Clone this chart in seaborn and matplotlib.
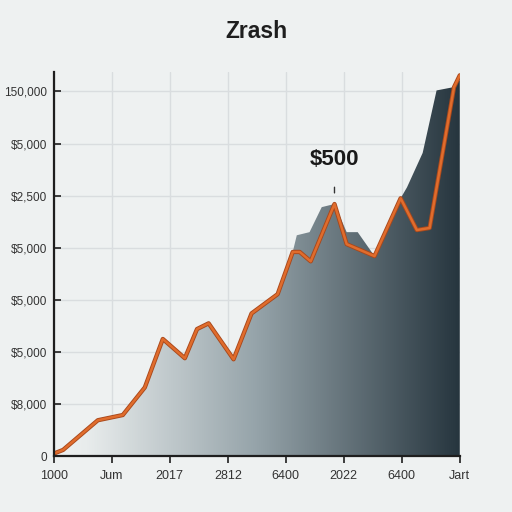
import numpy as np
import pandas as pd
import matplotlib
matplotlib.use('Agg')
import matplotlib.pyplot as plt
import matplotlib.patheffects as pe
from matplotlib.colors import LinearSegmentedColormap
import seaborn as sns

# ── Data (tick positions are category slots 0..7) ─────────────────
x_labels = ['1000', 'Jum', '2017', '2812', '6400', '2022', '6400', 'Jart']
y_labels = ['0', '$8,000', '$5,000', '$5,000', '$5,000', '$2,500', '$5,000', '150,000']

line_x = [0.00, 0.16, 0.76, 1.19, 1.57, 1.88, 2.26, 2.47, 2.67, 3.10, 3.41, 3.86,
          4.12, 4.24, 4.43, 4.84, 5.05, 5.53, 5.98, 6.26, 6.48, 6.90, 7.00]
line_y = [0.05, 0.12, 0.69, 0.79, 1.32, 2.25, 1.88, 2.44, 2.55, 1.86, 2.74, 3.11,
          3.92, 3.92, 3.74, 4.84, 4.07, 3.84, 4.95, 4.34, 4.38, 7.08, 7.31]

area_x = [0.00, 0.16, 0.76, 1.19, 1.57, 1.88, 2.26, 2.47, 2.67, 3.10, 3.41, 3.86,
          4.12, 4.19, 4.41, 4.62, 4.84, 5.05, 5.24, 5.53, 5.98, 6.09, 6.36, 6.60,
          6.88, 7.00]
area_y = [0.05, 0.12, 0.69, 0.79, 1.32, 2.25, 1.88, 2.44, 2.55, 1.86, 2.74, 3.11,
          3.92, 4.24, 4.30, 4.78, 4.84, 4.30, 4.30, 3.84, 4.95, 5.16, 5.82, 7.02,
          7.08, 7.22]

title = 'Zrash'
note_text = '$500'
note_idx = 15   # point in line_x/line_y that the note marks

# ── Style ─────────────────────────────────────────────────────────
BG = '#eef1f1'
sns.set_theme(style='whitegrid')
plt.rcParams['font.family'] = ['Liberation Sans', 'DejaVu Sans']

fig = plt.figure(figsize=(5.12, 5.12), dpi=100, facecolor=BG)
ax = fig.add_axes([0.105, 0.109, 0.793, 0.75])
ax.set_facecolor(BG)

# gradient fill under the area outline
poly = ax.fill_between(area_x, area_y, 0, facecolor='none', edgecolor='none')
cmap = LinearSegmentedColormap.from_list(
    'slate', [(0, '#eef1f1'), (0.08, '#e8ecec'), (0.5, '#95a3a9'), (1, '#26353e')])
grad = np.linspace(0, 1, 256).reshape(1, -1)
img = ax.imshow(grad, cmap=cmap, aspect='auto', zorder=2,
                extent=(min(area_x), max(area_x), 0, max(area_y)))
img.set_clip_path(poly.get_paths()[0], transform=ax.transData)

# orange line
df = pd.DataFrame({'x': line_x, 'y': line_y})
sns.lineplot(data=df, x='x', y='y', ax=ax, color='#e06c2c', linewidth=1.8,
             sort=False, zorder=4,
             path_effects=[pe.Stroke(linewidth=3.1, foreground='#a8481c'), pe.Normal()])

# annotation
ax.annotate(note_text, xy=(line_x[note_idx], line_y[note_idx]),
            xytext=(0, 32), textcoords='offset points',
            ha='center', va='center', fontsize=16, fontweight='bold', color='#1a1a1a',
            arrowprops=dict(arrowstyle='-', color='#333333', lw=1,
                            shrinkA=10, shrinkB=8), zorder=5)

# axes
ax.set_xlim(0, 7)
ax.set_ylim(0, 7.37)
ax.set_xticks(range(len(x_labels)))
ax.set_xticklabels(x_labels)
ax.set_yticks(range(len(y_labels)))
ax.set_yticklabels(y_labels)
ax.set_xlabel('')
ax.set_ylabel('')
ax.grid(True, color='#d9dddf', linewidth=1.0)
ax.set_axisbelow(True)
for s in ['top', 'right']:
    ax.spines[s].set_visible(False)
for s in ['left', 'bottom']:
    ax.spines[s].set_color('#1e1e1e')
    ax.spines[s].set_linewidth(1.6)
    ax.spines[s].set_zorder(6)
ax.tick_params(axis='x', direction='out', length=5, width=1.2, color='#1e1e1e',
               labelsize=9, labelcolor='#333333', pad=5, bottom=True)
ax.tick_params(axis='y', direction='in', length=5, width=1.2, color='#1e1e1e',
               labelsize=8.5, labelcolor='#333333', pad=5, left=True)

fig.text(0.5, 1 - 31 / 512, title, ha='center', va='center',
         fontsize=16.5, fontweight='bold', color='#1e1e1e')

plt.savefig('out.png', dpi=100, facecolor=BG)
